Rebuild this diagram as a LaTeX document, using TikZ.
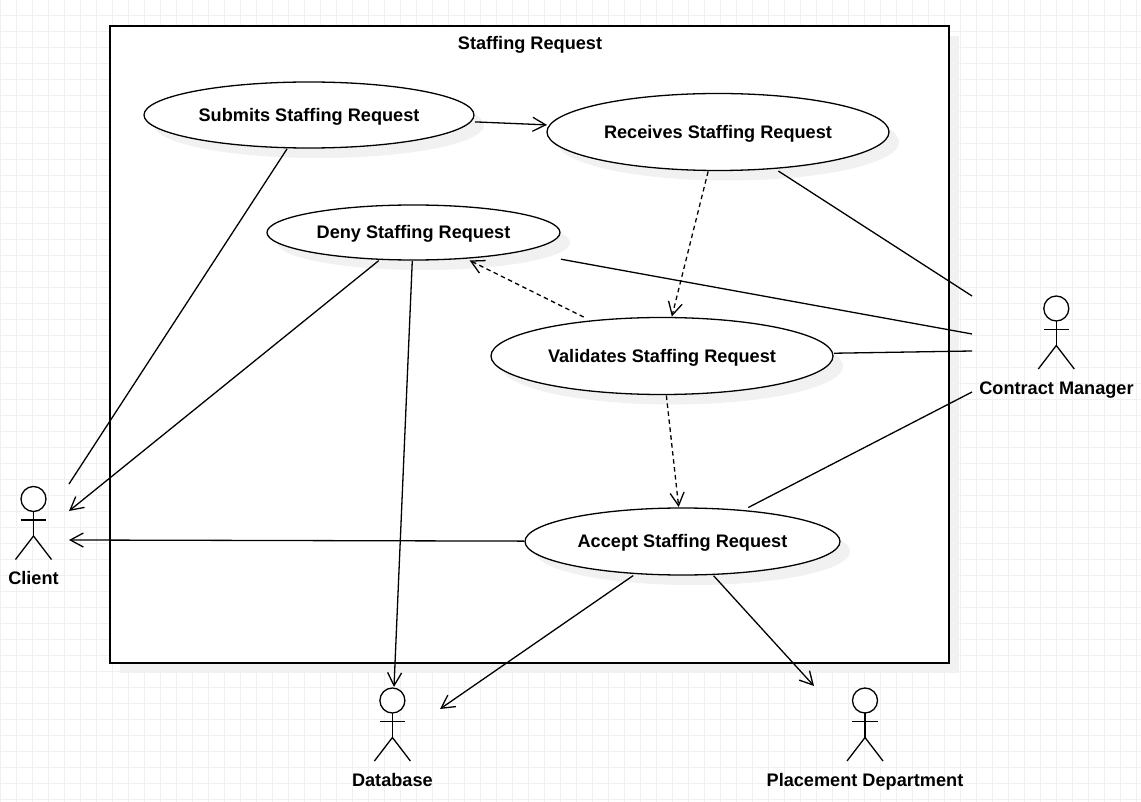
\documentclass[tikz,border=0pt]{standalone}
\usepackage{fontspec}
\setmainfont{Liberation Sans}
\usetikzlibrary{arrows.meta,shadows,shapes.geometric}
\definecolor{gridc}{HTML}{F0F0F0}
\definecolor{shadc}{HTML}{F1F1F1}
\tikzset{
  lbl/.style={font=\fontsize{18.15}{20}\selectfont\bfseries,inner sep=0pt,text=black,text height=14pt,text depth=1.4pt},
  usecase/.style={ellipse,draw=black,line width=1.3pt,fill=white,inner sep=0pt,outer sep=0pt,
    general shadow={shadow xshift=10pt,shadow yshift=-10pt,fill=shadc,draw=none}},
  ucframe/.style={rectangle,draw=none,fill=none,inner sep=0pt,outer sep=0pt,lbl},
  sysbox/.style={rectangle,draw=black,line width=1.1pt,fill=white,inner sep=0pt,outer sep=0pt,
    general shadow={shadow xshift=10pt,shadow yshift=-10pt,fill=shadc,draw=none}},
  headc/.style={circle,draw=black,line width=1.3pt,fill=white,inner sep=0pt,outer sep=0pt,minimum size=25pt},
  actorline/.style={draw=black,line width=1.3pt},
  assoc/.style={draw=black,line width=1.3pt,shorten <=1pt},
  flow/.style={assoc,-{Straight Barb[length=13pt,width=14pt,line width=1.3pt]}},
  dep/.style={flow,dashed,dash pattern=on 4.5pt off 3.5pt,shorten >=1pt}
}
% #1 name, #2 x, #3 y, #4 width, #5 height, #6 text
\newcommand{\usecasenode}[6]{%
  \node[usecase,minimum width=#4pt,minimum height=#5pt] (#1shape) at (#2,#3) {};
  \node[ucframe,minimum width=#4pt,minimum height=#5pt] (#1) at (#2,#3) {#6};
}
\newcommand{\actorfig}[3]{%
  \node[headc] (#1) at (#2,#3+12.5) {};
  \draw[actorline] (#1.south) -- (#2,#3+49.5) coordinate (#1hip);
  \draw[actorline] (#2-12.8,#3+33.6) -- (#2+12.8,#3+33.6);
  \draw[actorline] (#2-18,#3+73) -- (#1hip) -- (#2+18,#3+73);
}
\begin{document}
\begin{tikzpicture}[x=1pt,y=-1pt]
\useasboundingbox (0,0) rectangle (1141,802);
\fill[white] (0,0) rectangle (1141,802);
\begin{scope}
\clip (0,0) rectangle (1141,802);
\foreach \k in {0,...,71} \draw[gridc,line width=1pt] ({0.7+16*\k},0) -- ({0.7+16*\k},802);
\foreach \k in {0,...,50} \draw[gridc,line width=1pt] (0,{-0.5+16*\k}) -- (1141,{-0.5+16*\k});
\end{scope}

\node[sysbox,minimum width=839pt,minimum height=637pt] (sys) at (529.5,344.5) {};
\node[lbl] (systitle) at (530,43) {Staffing Request};

\usecasenode{sub}{309}{115}{330}{66}{Submits Staffing Request}
\usecasenode{rec}{718}{132}{342}{77}{Receives Staffing Request}
\usecasenode{deny}{413.5}{232.5}{293}{55}{Deny Staffing Request}
\usecasenode{val}{662}{356}{342}{77}{Validates Staffing Request}
\usecasenode{acc}{682.5}{541.5}{315}{67}{Accept Staffing Request}

\actorfig{client}{33.5}{486.5}
\actorfig{manager}{1056.3}{296}
\actorfig{database}{392.4}{688}
\actorfig{placement}{865}{688}
\node[lbl] (clientl) at (33.5,577.7) {Client};
\node[lbl] (managerl) at (1056.5,387.8) {Contract Manager};
\node[lbl] (databasel) at (392.4,780.2) {Database};
\node[lbl] (placementl) at (865,780.2) {Placement Department};

\coordinate (c1) at (69,484);
\coordinate (c2) at (69,511);
\coordinate (c3) at (69,540);
\coordinate (m1) at (972,296);
\coordinate (m2) at (972,334);
\coordinate (m3) at (972,351);
\coordinate (m4) at (972,392);
\coordinate (d1) at (394,687);
\coordinate (d2) at (440,709);
\coordinate (p1) at (814,686);

\draw[flow] (sub) -- (rec);
\draw[assoc] (sub) -- (c1);
\draw[assoc] (rec) -- (m1);
\draw[assoc] (deny) -- (m2);
\draw[assoc] (val) -- (m3);
\draw[assoc] (acc) -- (m4);
\draw[flow] (deny) -- (c2);
\draw[flow] (acc) -- (c3);
\draw[flow] (deny) -- (d1);
\draw[flow] (acc) -- (d2);
\draw[flow] (acc) -- (p1);
\draw[dep] (rec) -- (val);
\draw[dep] (val) -- (deny);
\draw[dep] (val) -- (acc);
\end{tikzpicture}
\end{document}
